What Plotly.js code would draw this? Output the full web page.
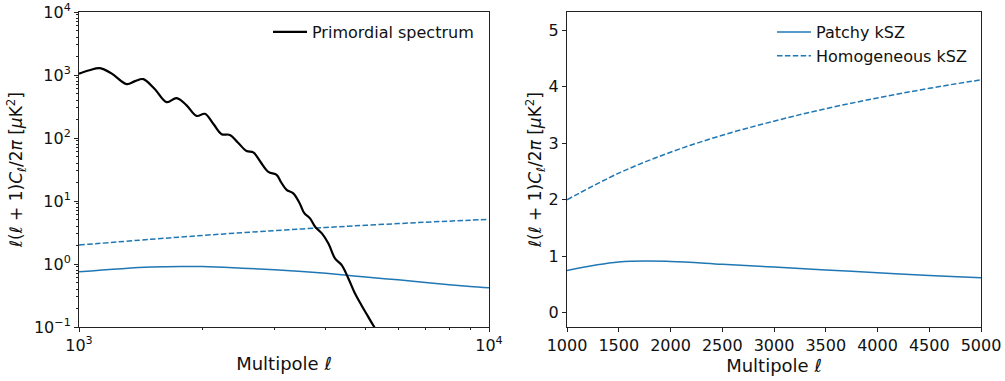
<!DOCTYPE html>
<html>
<head>
<meta charset="utf-8">
<script src="https://cdn.plot.ly/plotly-3.0.1.min.js"></script>
<style>html,body{margin:0;padding:0;background:#fff;}#chart{width:1005px;height:381px;}</style>
</head>
<body>
<div id="chart"></div>
<script>
// Primordial CMB spectrum
const ellPrim = [1000,1060,1125,1200,1307,1370,1435,1530,1636,1730,1830,1936,2028,2130,2228,2334,2440,2564,2661,2770,2896,3034,3110,3209,3331,3450,3545,3660,3766,3912,4058,4210,4373,4540,4712,4889,5060,5250,5400];
const clPrim  = [1045,1190,1288,1060,716,800,861,600,371,430,330,224,242,165,115,112,85,62,59,42,29,26,20,15,13.2,9.3,6.4,5.3,3.9,3.06,2.12,1.23,0.96,0.59,0.34,0.22,0.15,0.10,0.075];

// kSZ spectra
const ellKsz   = [1000,1500,2000,2500,3000,3500,4000,4500,5000,6000,7000,8000,9000,10000];
const patchy   = [0.75,0.90,0.91,0.86,0.81,0.76,0.71,0.66,0.62,0.56,0.51,0.47,0.44,0.42];
const homog    = [2.00,2.47,2.84,3.14,3.39,3.61,3.80,3.97,4.12,4.38,4.60,4.79,4.96,5.10];

const logYTicks = [0.1,1,10,100,1000,10000];
const logYText  = ['10<sup>−1</sup>','10<sup>0</sup>','10<sup>1</sup>','10<sup>2</sup>','10<sup>3</sup>','10<sup>4</sup>'];
const logXTicks = [1000,10000];
const logXText  = ['10<sup>3</sup>','10<sup>4</sup>'];
const logXMinor = [2000,3000,4000,5000,6000,7000,8000,9000];
const linXTicks = [1000,1500,2000,2500,3000,3500,4000,4500,5000];
const linYTicks = [0,1,2,3,4,5];

const blue = '#1f77b4';
const dashPat = '5.5px,2.4px';
const font = 'DejaVu Sans, sans-serif';

const traces = [
  {x: ellKsz, y: homog, xaxis:'x', yaxis:'y', mode:'lines', line:{color:blue,width:1.5,dash:dashPat,shape:'spline'}, showlegend:false},
  {x: ellKsz, y: patchy, xaxis:'x', yaxis:'y', mode:'lines', line:{color:blue,width:1.5,shape:'spline'}, showlegend:false},
  {x: ellPrim, y: clPrim, xaxis:'x', yaxis:'y', mode:'lines', name:'Primordial spectrum', line:{color:'#000',width:2.2,shape:'spline',smoothing:1}, legend:'legend'},
  {x: ellKsz, y: patchy, xaxis:'x2', yaxis:'y2', mode:'lines', name:'Patchy kSZ', line:{color:blue,width:1.5,shape:'spline'}, legend:'legend2'},
  {x: ellKsz, y: homog, xaxis:'x2', yaxis:'y2', mode:'lines', name:'Homogeneous kSZ', line:{color:blue,width:1.5,dash:dashPat,shape:'spline'}, legend:'legend2'}
];

const ytitle = '<i>ℓ</i>(<i>ℓ</i> + 1)<i>C</i><sub><i>ℓ</i></sub>/2<i>π</i> [<i>μ</i>K<sup>2</sup>]';
const xtitle = 'Multipole <i>ℓ</i>';

const axCommon = {
  showline:true, linecolor:'#222', linewidth:1, mirror:true, showgrid:false, zeroline:false,
  ticks:'outside', ticklen:4, tickwidth:1, tickcolor:'#222',
  tickfont:{family:font,size:16,color:'#111'}
};

const yDom = [54/381, 369/381];

const layout = {
  width:1005, height:381,
  margin:{l:0,r:0,t:0,b:0},
  paper_bgcolor:'#fff', plot_bgcolor:'#fff',
  font:{family:font,color:'#111'},
  xaxis: Object.assign({}, axCommon, {
    domain:[79/1005, 489/1005], type:'log', range:[3,4], anchor:'y',
    tickvals:logXTicks, ticktext:logXText,
    minor:{ticks:'outside', ticklen:2, tickcolor:'#222', tickvals:logXMinor},
    title:{text:xtitle, font:{family:font,size:18}, standoff:3}
  }),
  yaxis: Object.assign({}, axCommon, {
    domain:yDom, type:'log', range:[-1,4], anchor:'x',
    tickvals:logYTicks, ticktext:logYText,
    minor:{ticks:'outside', ticklen:2, tickcolor:'#222', dtick:'D1'},
    title:{text:ytitle, font:{family:font,size:17}, standoff:6}
  }),
  xaxis2: Object.assign({}, axCommon, {
    domain:[567/1005, 981/1005], type:'linear', range:[1000,5000], anchor:'y2',
    tickvals:linXTicks,
    title:{text:xtitle, font:{family:font,size:18}, standoff:3}
  }),
  yaxis2: Object.assign({}, axCommon, {
    domain:yDom, type:'linear', range:[-0.25,5.32], anchor:'x2',
    tickvals:linYTicks,
    title:{text:ytitle, font:{family:font,size:17}, standoff:2}
  }),
  legend:{x:268/1005, y:1-15/381, xanchor:'left', yanchor:'top', bgcolor:'rgba(0,0,0,0)',
          font:{family:font,size:16,color:'#111'}, itemwidth:34},
  legend2:{x:772/1005, y:1-15/381, xanchor:'left', yanchor:'top', bgcolor:'rgba(0,0,0,0)',
          font:{family:font,size:16,color:'#111'}, itemwidth:34, tracegroupgap:0}
};

Plotly.newPlot('chart', traces, layout, {staticPlot:true, displayModeBar:false});
</script>
</body>
</html>
